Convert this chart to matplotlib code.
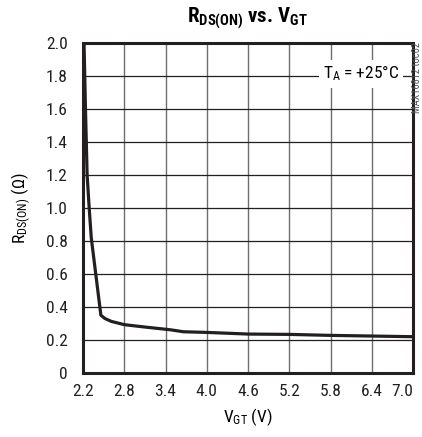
import matplotlib
matplotlib.use("Agg")
import matplotlib.pyplot as plt
from matplotlib import font_manager

# curve
v_gt = [2.215, 2.236, 2.26, 2.29, 2.32, 2.46, 2.52, 2.61, 2.80, 3.09, 3.47, 3.66,
        4.0, 4.6, 5.2, 5.8, 6.4, 7.0]
r_ds = [2.0, 1.6, 1.2, 1.0, 0.82, 0.35, 0.33, 0.313, 0.293, 0.279, 0.262, 0.25,
        0.246, 0.236, 0.234, 0.228, 0.224, 0.22]

x_ticks = [2.2, 2.8, 3.4, 4.0, 4.6, 5.2, 5.8, 6.4, 7.0]
y_ticks = [0, 0.2, 0.4, 0.6, 0.8, 1.0, 1.2, 1.4, 1.6, 1.8, 2.0]
y_labels = ["0"] + [f"{y:.1f}" for y in y_ticks[1:]]

# prefer a condensed face if one happens to be around
_names = {f.name for f in font_manager.fontManager.ttflist}
_main = next((n for n in ["Roboto Condensed", "Liberation Sans Narrow",
                          "Open Sans Condensed", "Liberation Sans"] if n in _names),
             "DejaVu Sans")
_narrow = _main != "Liberation Sans"
_fs = 12.5 if _narrow else 10.5

plt.rcParams["font.family"] = [_main, "DejaVu Sans"]
plt.rcParams["mathtext.fontset"] = "custom"
plt.rcParams["mathtext.rm"] = _main
plt.rcParams["mathtext.bf"] = _main + ":bold"
plt.rcParams["mathtext.it"] = _main + ":italic"

fig = plt.figure(figsize=(4.22, 4.37), dpi=100)
ax = fig.add_axes([83 / 422, 1 - 373 / 437, 330 / 422, 330 / 437])

ax.plot(v_gt, r_ds, color="#231f20", lw=2.3, solid_joinstyle="round", zorder=3)

ax.set_xlim(2.2, 7.0)
ax.set_ylim(0, 2.0)
ax.set_xticks(x_ticks)
ax.set_xticklabels([f"{x:.1f}" for x in x_ticks])
ax.set_yticks(y_ticks)
ax.set_yticklabels(y_labels)
ax.tick_params(length=0, labelsize=_fs, colors="#231f20")
ax.tick_params(axis="y", pad=11)
ax.tick_params(axis="x", pad=8)
ax.get_xticklabels()[-1].set_horizontalalignment("right")
# vertical grid is a touch lighter than the horizontal one
ax.grid(True, axis="x", color="#6d6e71", lw=1.0)
ax.grid(True, axis="y", color="#231f20", lw=0.9)
ax.set_axisbelow(True)
for s in ax.spines.values():
    s.set_linewidth(2.2)
    s.set_color("#231f20")

ax.set_xlabel(r"V$_{\mathrm{GT}}$ (V)", fontsize=_fs, labelpad=5)
ax.set_ylabel(r"R$_{\mathrm{DS(ON)}}$ (Ω)", fontsize=_fs, labelpad=9)

fig.text(0.585, 0.957, r"$\mathbf{R_{DS(ON)}}$ vs. $\mathbf{V_{GT}}$",
         ha="center", va="center", fontsize=15, fontweight="bold")

ax.text(6.8, 1.815, r"T$_{\mathrm{A}}$ = +25°C", ha="right", va="center",
        fontsize=_fs, zorder=4,
        bbox=dict(facecolor="white", edgecolor="none", pad=3))

fig.text(0.989, 0.905, "MAX16812 toc02", rotation=90, ha="center", va="top",
         fontsize=7.5, color="#555555")

fig.savefig("out.png", dpi=100, facecolor="white")
